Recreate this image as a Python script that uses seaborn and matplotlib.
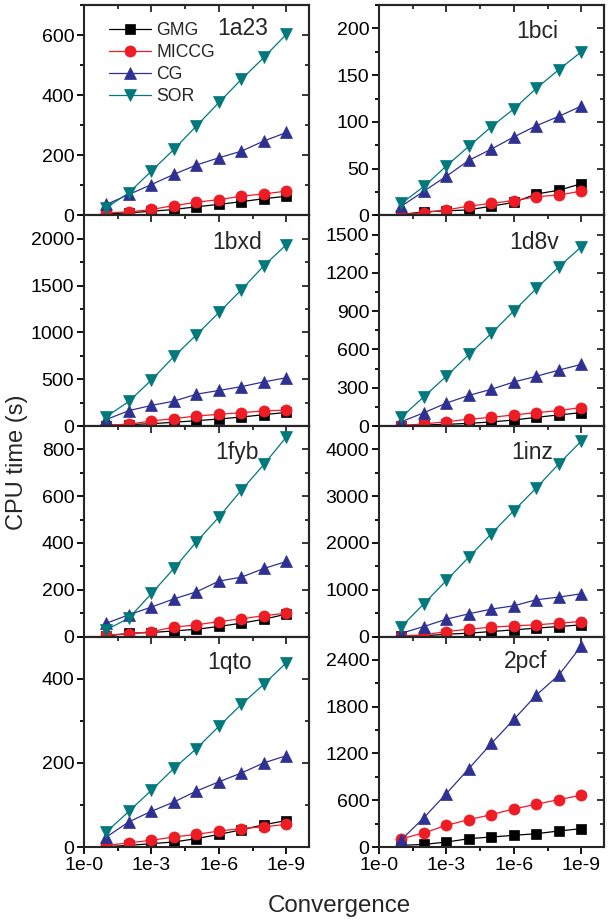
import matplotlib
matplotlib.use("Agg")
import matplotlib.pyplot as plt
import seaborn as sns
import pandas as pd
from matplotlib.ticker import MultipleLocator, FixedLocator, FixedFormatter

sns.set_style("ticks")
plt.rcParams['font.family'] = ['Liberation Sans', 'DejaVu Sans']

# ---------------- data ----------------
conv_exp = [1, 2, 3, 4, 5, 6, 7, 8, 9]          # convergence 1e-1 ... 1e-9
xtick_pos = [0, 3, 6, 9]
xtick_labels = ['1e-0', '1e-3', '1e-6', '1e-9']
methods = ['GMG', 'MICCG', 'CG', 'SOR']
panels = ['1a23', '1bci', '1bxd', '1d8v', '1fyb', '1inz', '1qto', '2pcf']

gmg_1a23 = [5, 9, 14, 20, 29, 37, 46, 56, 64]
miccg_1a23 = [9, 12, 20, 33, 44, 53, 64, 72, 81]
cg_1a23 = [37, 70, 103, 137, 168, 192, 214, 248, 276]
sor_1a23 = [26, 76, 148, 220, 298, 376, 453, 526, 603]

gmg_1bci = [1, 4, 5, 6, 10, 14, 23, 27, 34]
miccg_1bci = [1, 3, 6, 10, 13, 16, 20, 22, 26]
cg_1bci = [10, 26, 42, 59, 71, 84, 96, 106, 117]
sor_1bci = [13, 31, 53, 74, 95, 114, 136, 156, 175]

gmg_1bxd = [5, 15, 25, 40, 57, 75, 96, 121, 146]
miccg_1bxd = [10, 20, 54, 79, 107, 125, 143, 161, 171]
cg_1bxd = [70, 165, 220, 266, 340, 380, 421, 472, 516]
sor_1bxd = [100, 264, 493, 743, 975, 1214, 1457, 1714, 1939]

gmg_1d8v = [2, 8, 13, 21, 32, 47, 68, 87, 105]
miccg_1d8v = [5, 16, 34, 53, 68, 87, 105, 121, 145]
cg_1d8v = [34, 104, 180, 240, 288, 345, 390, 438, 484]
sor_1d8v = [70, 230, 391, 561, 726, 903, 1078, 1248, 1405]

gmg_1fyb = [2, 14, 17, 24, 31, 43, 57, 74, 96]
miccg_1fyb = [7, 11, 21, 40, 50, 64, 76, 89, 100]
cg_1fyb = [57, 93, 126, 161, 191, 237, 254, 291, 321]
sor_1fyb = [29, 79, 184, 291, 405, 511, 626, 736, 854]

gmg_1inz = [5, 14, 50, 71, 107, 143, 179, 214, 250]
miccg_1inz = [14, 36, 107, 157, 200, 229, 250, 286, 321]
cg_1inz = [71, 214, 371, 486, 586, 657, 786, 843, 914]
sor_1inz = [214, 700, 1200, 1700, 2200, 2693, 3179, 3693, 4179]

gmg_1qto = [1, 4, 8, 12, 20, 30, 41, 53, 63]
miccg_1qto = [4, 10, 16, 24, 30, 38, 44, 48, 54]
cg_1qto = [24, 60, 85, 107, 133, 155, 176, 200, 217]
sor_1qto = [36, 85, 135, 187, 234, 287, 339, 387, 438]

gmg_2pcf = [21, 34, 64, 107, 129, 150, 171, 206, 236]
miccg_2pcf = [107, 180, 279, 351, 416, 489, 549, 609, 664]
cg_2pcf = [94, 377, 686, 1007, 1329, 1637, 1950, 2207, 2580]

panel_data = {
    '1a23': [gmg_1a23, miccg_1a23, cg_1a23, sor_1a23],
    '1bci': [gmg_1bci, miccg_1bci, cg_1bci, sor_1bci],
    '1bxd': [gmg_1bxd, miccg_1bxd, cg_1bxd, sor_1bxd],
    '1d8v': [gmg_1d8v, miccg_1d8v, cg_1d8v, sor_1d8v],
    '1fyb': [gmg_1fyb, miccg_1fyb, cg_1fyb, sor_1fyb],
    '1inz': [gmg_1inz, miccg_1inz, cg_1inz, sor_1inz],
    '1qto': [gmg_1qto, miccg_1qto, cg_1qto, sor_1qto],
    '2pcf': [gmg_2pcf, miccg_2pcf, cg_2pcf, None],
}

# ---------------- style ----------------
colors = {'GMG': '#000000', 'MICCG': '#ee1c25', 'CG': '#2e3192', 'SOR': '#00787c'}
markers = {'GMG': 's', 'MICCG': 'o', 'CG': '^', 'SOR': 'v'}
msizes = {'GMG': 6.5, 'MICCG': 8.0, 'CG': 8.5, 'SOR': 8.5}
yaxis_cfg = {
    '1a23': (700, 200, 100), '1bci': (225, 50, 25),
    '1bxd': (2250, 500, 250), '1d8v': (1650, 300, 150),
    '1fyb': (900, 200, 100), '1inz': (4500, 1000, 500),
    '1qto': (500, 200, 100), '2pcf': (2700, 600, 300),
}
label_pos = {
    '1a23': (0.704, 0.886), '1bci': (0.704, 0.872),
    '1bxd': (0.682, 0.872), '1d8v': (0.689, 0.872),
    '1fyb': (0.680, 0.876), '1inz': (0.682, 0.876),
    '1qto': (0.647, 0.876), '2pcf': (0.651, 0.881),
}

fig, axes = plt.subplots(4, 2, figsize=(6.10, 9.24), dpi=100, sharex=True)
fig.subplots_adjust(left=0.1377, right=0.990, top=0.9946, bottom=0.0833,
                    wspace=0.311, hspace=0.0)

for i, name in enumerate(panels):
    ax = axes[i // 2, i % 2]
    for m, vals in zip(methods, panel_data[name]):
        if vals is None:
            continue
        df = pd.DataFrame({'conv': conv_exp, 'time': vals})
        sns.lineplot(data=df, x='conv', y='time', ax=ax, color=colors[m],
                     marker=markers[m], markersize=msizes[m],
                     markeredgecolor=colors[m], markeredgewidth=0.5,
                     linewidth=0.9, label=m, legend=False)
    ymax, major, minor = yaxis_cfg[name]
    ax.set_xlim(0, 10)
    ax.set_ylim(0, ymax)
    ax.xaxis.set_major_locator(FixedLocator(xtick_pos))
    ax.xaxis.set_major_formatter(FixedFormatter(xtick_labels))
    ax.xaxis.set_minor_locator(FixedLocator([1.5, 4.5, 7.5]))
    ax.yaxis.set_major_locator(MultipleLocator(major))
    ax.yaxis.set_minor_locator(MultipleLocator(minor))
    ax.set_xlabel('')
    ax.set_ylabel('')
    for s in ax.spines.values():
        s.set_linewidth(1.5)
    ax.tick_params(which='both', direction='out', top=False, right=False,
                   width=1.3, labelsize=14, colors='black', pad=2)
    ax.tick_params(which='major', length=5)
    ax.tick_params(which='minor', length=3)
    if i // 2 < 3:
        ax.tick_params(labelbottom=False)
    # inward mirrored ticks on right and top
    sy = ax.secondary_yaxis('right')
    sy.yaxis.set_major_locator(MultipleLocator(major))
    sy.yaxis.set_minor_locator(MultipleLocator(minor))
    sy.tick_params(which='both', direction='in', labelright=False, width=1.3)
    sy.tick_params(which='major', length=5)
    sy.tick_params(which='minor', length=3)
    sy.spines['right'].set_linewidth(1.5)
    sx = ax.secondary_xaxis('top')
    sx.xaxis.set_major_locator(FixedLocator(xtick_pos))
    sx.xaxis.set_minor_locator(FixedLocator([1.5, 4.5, 7.5]))
    sx.tick_params(which='both', direction='in', labeltop=False, width=1.3)
    sx.tick_params(which='major', length=5)
    sx.tick_params(which='minor', length=3)
    sx.spines['top'].set_linewidth(1.5)
    lx, ly = label_pos[name]
    ax.text(lx, ly, name, transform=ax.transAxes, ha='center', va='center',
            fontsize=16.5)
    if i == 0:
        ax.legend(loc='upper left', bbox_to_anchor=(0.11, 0.917), frameon=False,
                  fontsize=12.7, handlelength=2.4, handletextpad=0.3,
                  labelspacing=0.27, borderaxespad=0.0, borderpad=0.0)

fig.text(0.028, 0.5, 'CPU time (s)', rotation=90, ha='center', va='center',
         fontsize=17)
fig.text(0.557, 0.0195, 'Convergence', ha='center', va='center', fontsize=17.4)

fig.savefig('out.png', dpi=100)
